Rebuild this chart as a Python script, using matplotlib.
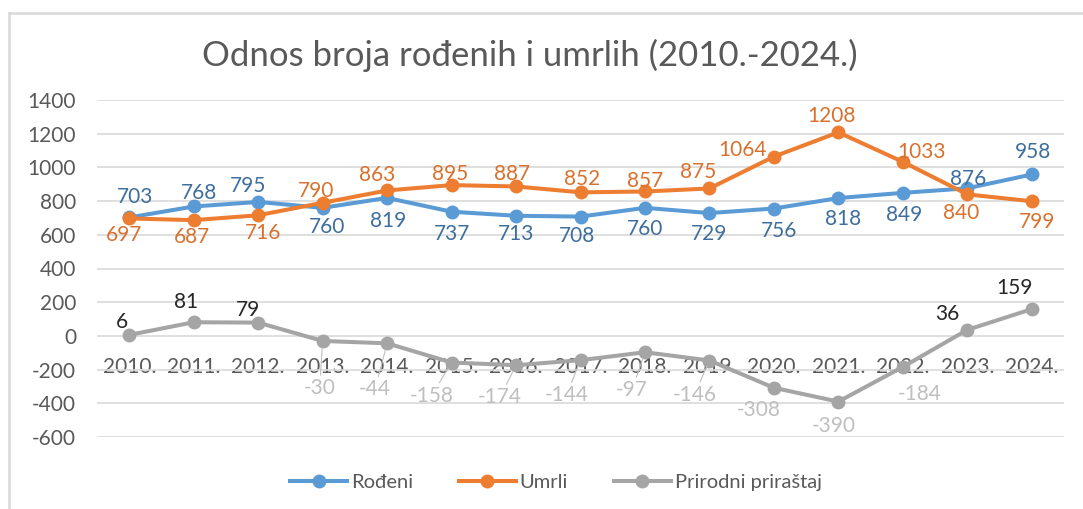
import matplotlib
matplotlib.use("Agg")
import matplotlib.pyplot as plt
from matplotlib.lines import Line2D

plt.rcParams['font.family'] = ['Lato', 'DejaVu Sans']
plt.rcParams['axes.unicode_minus'] = False

years = ["2010.", "2011.", "2012.", "2013.", "2014.", "2015.", "2016.", "2017.",
         "2018.", "2019.", "2020.", "2021.", "2022.", "2023.", "2024."]
rodeni = [703, 768, 795, 760, 819, 737, 713, 708, 760, 729, 756, 818, 849, 876, 958]
umrli = [697, 687, 716, 790, 863, 895, 887, 852, 857, 875, 1064, 1208, 1033, 840, 799]
prirastaj = [6, 81, 79, -30, -44, -158, -174, -144, -97, -146, -308, -390, -184, 36, 159]

# label offsets in pixels (dx, dy)
off_rodeni = [(6, 20), (5, 13), (-10, 16), (4, -19), (1, -23), (0, -22), (0, -18), (-4, -19),
              (0, -21), (0, -21), (5, -22), (5, -21), (1, -22), (1, 9), (1, 22)]
off_umrli = [(-5, -17), (-2, -17), (5, -18), (-7, 12), (-10, 15), (-1, 11), (-4, 12), (2, 13),
             (0, 10), (-11, 16), (-31, 7), (-7, 16), (19, 10), (-6, -19), (5, -21)]
off_prir = [(-7, 13), (-8, 20), (-10, 13), (-3, -47), (-12, -46), (-20, -33), (-16, -32), (-14, -35),
            (-13, -38), (-15, -34), (-15, -22), (-5, -24), (17, -27), (-20, 16), (-17, 21)]
leader = [False, False, False, True, True, True, True, True, True, True, False, False, False, False, False]

fig = plt.figure(figsize=(10.83, 5.09), dpi=100)
ax = fig.add_axes([97 / 1083, 72 / 509, (1064 - 97) / 1083, (409 - 72) / 509])

x = list(range(len(years)))
ax.plot(x, rodeni, '-o', color='#5B9BD5', lw=2.9, ms=9, zorder=3, label='Rođeni')
ax.plot(x, umrli, '-o', color='#ED7D31', lw=2.9, ms=9, zorder=4, label='Umrli')
ax.plot(x, prirastaj, '-o', color='#A5A5A5', lw=2.9, ms=9, zorder=5, label='Prirodni priraštaj')

for i in x:
    ax.annotate(str(rodeni[i]), (i, rodeni[i]), xytext=off_rodeni[i], textcoords='offset pixels',
                ha='center', va='center', fontsize=15, color='#3E6E9E', zorder=6)
    ax.annotate(str(umrli[i]), (i, umrli[i]), xytext=off_umrli[i], textcoords='offset pixels',
                ha='center', va='center', fontsize=15, color='#D9712E', zorder=6)
    col = '#262626' if prirastaj[i] > 0 else '#BFBFBF'
    arrow = dict(arrowstyle='-', color='#BFBFBF', lw=0.8, shrinkA=0, shrinkB=5) if leader[i] else None
    ax.annotate(str(prirastaj[i]), (i, prirastaj[i]), xytext=off_prir[i], textcoords='offset pixels',
                ha='center', va='center', fontsize=15, color=col, zorder=6, arrowprops=arrow)

ax.set_xlim(-0.5, len(years) - 0.5)
ax.set_ylim(-600, 1400)
ax.set_yticks(range(-600, 1401, 200))
ax.grid(axis='y', color='#D9D9D9', lw=1.2)
ax.set_axisbelow(True)
for s in ax.spines.values():
    s.set_visible(False)
ax.spines['bottom'].set_position(('data', 0))
ax.set_xticks(x)
ax.set_xticklabels(years)
ax.tick_params(axis='x', length=0, pad=15, labelsize=15, labelcolor='#595959')
ax.tick_params(axis='y', length=0, pad=15, labelsize=15, labelcolor='#595959')

fig.text(530 / 1083, 1 - 55 / 509, 'Odnos broja rođenih i umrlih (2010.-2024.)',
         ha='center', va='center', fontsize=25, color='#595959')

fig.legend(loc='center', bbox_to_anchor=(556 / 1083, 1 - 482 / 509), ncol=3, frameon=False,
           fontsize=14.5, labelcolor='#595959', handlelength=2.8, handletextpad=0.2, columnspacing=2.3)

# chart frame (left and top edges visible in the reference)
fig.add_artist(Line2D([9 / 1083, 9 / 1083], [0, 1 - 13 / 509], color='#D9D9D9', lw=1.8))
fig.add_artist(Line2D([9 / 1083, 1], [1 - 13 / 509, 1 - 13 / 509], color='#D9D9D9', lw=1.8))

fig.savefig('out.png', dpi=100)
